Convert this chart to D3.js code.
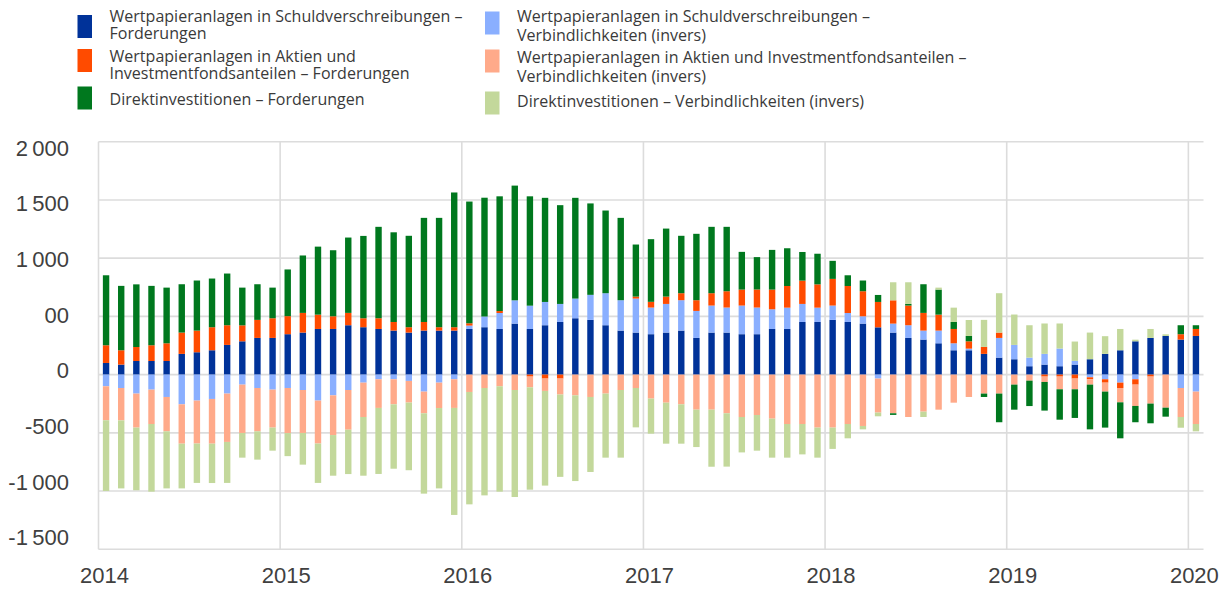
<!DOCTYPE html>
<html>
<head>
<meta charset="utf-8">
<script src="https://cdnjs.cloudflare.com/ajax/libs/d3/7.8.5/d3.min.js"></script>
<style>
body { margin: 0; background: #fff; }
</style>
</head>
<body>
<div id="canvas"></div>
<script>
var w = 1231;
var h = 589;
var barW = 6.4;

// monthly, Jan 2014 .. Jan 2020
var months = d3.range(73).map(function(i) { return new Date(2014, i, 1); });
var years = ["2014", "2015", "2016", "2017", "2018", "2019", "2020"];

var debtAssets = [100, 86, 117, 117, 117, 178, 192, 209, 255, 286, 315, 315,
    347, 361, 392, 392, 424, 407, 392, 378, 361, 378, 378, 378,
    392, 407, 392, 438, 392, 424, 452, 484, 470, 424, 378, 361,
    347, 361, 378, 315, 361, 361, 347, 347, 392, 392, 452, 452,
    470, 452, 438, 406, 361, 315, 301, 269, 209, 209, 178, 146,
    132, 72, 86, 72, 86, 132, 178, 209, 286, 315, 332, 301,
    332];
var debtLiab = [-100, -115, -163, -129, -192, -255, -223, -209, -163, -86, -115, -129,
    -115, -132, -223, -178, -132, -69, -40, -40, -54, -146, -69, -40,
    29, 92, 137, 200, 200, 200, 155, 169, 215, 275, 261, 292,
    229, 246, 261, 232, 232, 215, 246, 229, 169, 183, 155, 123,
    123, 77, 63, -34, 77, 109, 77, 109, 60, 14, 0, 169,
    123, 74, 92, 152, 32, -23, -40, -69, -40, 0, 0, -115,
    -146];
var equityAssets = [152, 123, 120, 135, 152, 183, 186, 198, 169, 137, 155, 169,
    155, 169, 123, 109, 106, 77, 92, 74, 46, 74, 29, 29,
    20, 0, 17, 0, -17, -34, -34, 0, 0, 0, 0, 17,
    49, 63, 60, 92, 106, 140, 137, 155, 169, 186, 200, 200,
    229, 232, 215, 218, 200, 169, 152, 137, 123, 63, 60, 46,
    0, 0, -17, -17, -34, -17, -29, -46, -46, -17, 0, 46,
    60];
var equityLiab = [-292, -278, -292, -295, -295, -338, -369, -384, -415, -415, -372, -326,
    -387, -369, -369, -341, -341, -295, -246, -215, -186, -186, -218, -246,
    -149, -115, -100, -132, -92, -106, -137, -178, -192, -163, -132, -115,
    -206, -241, -255, -301, -301, -332, -364, -347, -378, -424, -424, -455,
    -455, -424, -441, -292, -332, -364, -318, -301, -241, -192, -163, -163,
    -86, -52, -46, -109, -92, -46, -77, -123, -183, -232, -284, -249,
    -278];
var fdiAssets = [601, 553, 538, 510, 478, 415, 430, 418, 444, 324, 306, 263,
    401, 493, 584, 567, 647, 707, 785, 770, 785, 894, 939, 1157,
    1045, 1020, 985, 985, 939, 894, 848, 865, 785, 710, 707, 447,
    538, 584, 493, 570, 570, 553, 324, 278, 341, 324, 246, 263,
    155, 92, 92, 60, -14, 14, 246, 215, 60, 46, -29, -246,
    -215, -218, -246, -261, -246, -384, -309, -309, -140, -169, -77, 77,
    32];
var fdiLiab = [-607, -584, -538, -581, -490, -384, -338, -338, -352, -212, -243, -198,
    -198, -272, -338, -349, -381, -504, -567, -553, -581, -690, -690, -919,
    -965, -922, -905, -919, -879, -813, -707, -736, -644, -550, -581, -338,
    -301, -352, -338, -321, -490, -458, -304, -306, -335, -289, -261, -258,
    -183, -123, -29, -32, 155, 186, -46, 17, 123, 137, 232, 338,
    261, 278, 261, 215, 166, 229, 152, 183, 14, 77, 14, -92,
    -63];

var yTicks = [-1500, -1000, -500, 0, 500, 1000, 1500, 2000];
var yTickLabels = ["-1\u2009500", "-1\u2009000", "-500", "0", "00", "1\u2009000", "1\u2009500", "2\u2009000"];

var series = [
    { key: "debtAssets", color: "#003299", lines: ["Wertpapieranlagen in Schuldverschreibungen \u2013", "Forderungen"] },
    { key: "debtLiab", color: "#8AAFFF", lines: ["Wertpapieranlagen in Schuldverschreibungen \u2013", "Verbindlichkeiten (invers)"] },
    { key: "equityAssets", color: "#FF4B00", lines: ["Wertpapieranlagen in Aktien und", "Investmentfondsanteilen \u2013 Forderungen"] },
    { key: "equityLiab", color: "#FFAA8A", lines: ["Wertpapieranlagen in Aktien und Investmentfondsanteilen \u2013", "Verbindlichkeiten (invers)"] },
    { key: "fdiAssets", color: "#00781E", lines: ["Direktinvestitionen \u2013 Forderungen"] },
    { key: "fdiLiab", color: "#C3D89B", lines: ["Direktinvestitionen \u2013 Verbindlichkeiten (invers)"] }
];

var rows = months.map(function(m, i) {
    return {
        month: m,
        debtAssets: debtAssets[i],
        debtLiab: debtLiab[i],
        equityAssets: equityAssets[i],
        equityLiab: equityLiab[i],
        fdiAssets: fdiAssets[i],
        fdiLiab: fdiLiab[i]
    };
});

var canvas = d3.select("#canvas")
    .append("svg")
    .attr("width", w)
    .attr("height", h)
    .style("background-color", "white");

var xScale = d3.scaleLinear()
    .domain([0, 73])
    .range([98.5, 1203.5]);

var yScale = d3.scaleLinear()
    .domain([-1500, 2000])
    .range([549.3, 141.7]);

// tick labels in the source sit slightly off the grid
var yLabelScale = d3.scaleLinear()
    .domain([-1500, 2000])
    .range([537, 147.3]);

var grid = canvas.append("g")
    .attr("stroke", "#dcdcdc")
    .attr("stroke-width", 1.6);

grid.selectAll("line.h")
    .data(yTicks)
    .join("line")
    .attr("class", "h")
    .attr("x1", xScale(0))
    .attr("x2", xScale(73))
    .attr("y1", d => yScale(d))
    .attr("y2", d => yScale(d));

grid.selectAll("line.v")
    .data(years)
    .join("line")
    .attr("class", "v")
    .attr("x1", (d, i) => xScale(i * 12))
    .attr("x2", (d, i) => xScale(i * 12))
    .attr("y1", yScale(2000))
    .attr("y2", yScale(-1500));

var stack = d3.stack()
    .keys(series.map(d => d.key))
    .offset(d3.stackOffsetDiverging);

var layers = canvas.append("g")
    .selectAll("g")
    .data(stack(rows))
    .join("g")
    .attr("fill", (d, i) => series[i].color);

layers.selectAll("rect")
    .data(d => d)
    .join("rect")
    .attr("x", (d, i) => xScale(i + 0.5) - barW / 2)
    .attr("width", barW)
    .attr("y", d => yScale(Math.max(d[0], d[1])))
    .attr("height", d => Math.abs(yScale(d[0]) - yScale(d[1])));

var yAxis = d3.axisLeft(yLabelScale)
    .tickValues(yTicks)
    .tickFormat((d, i) => yTickLabels[i])
    .tickSize(0)
    .tickPadding(0);

canvas.append("g")
    .attr("transform", "translate(69, 0)")
    .call(yAxis)
    .call(g => g.select(".domain").remove())
    .selectAll("text")
    .attr("dy", "0.36em")
    .attr("fill", "#404040")
    .style("font-family", "'Liberation Sans', Arial, sans-serif")
    .style("font-size", "22px");

var xAxis = d3.axisBottom(xScale)
    .tickValues(d3.range(0, 73, 12))
    .tickFormat(d => years[d / 12])
    .tickSize(0)
    .tickPadding(0);

canvas.append("g")
    .attr("transform", "translate(5.5, 575)")
    .call(xAxis)
    .call(g => g.select(".domain").remove())
    .selectAll("text")
    .attr("y", 0)
    .attr("dy", "0.36em")
    .attr("fill", "#404040")
    .style("font-family", "'Liberation Sans', Arial, sans-serif")
    .style("font-size", "22px");

// legend: left column assets, right column liabilities
var legendPos = {
    debtAssets: { x: 77.5, y: 15, ty: 21.5, lh: 17.5 },
    equityAssets: { x: 77.5, y: 49, ty: 61.5, lh: 17.5 },
    fdiAssets: { x: 77.5, y: 86.5, ty: 104.5, lh: 17.5 },
    debtLiab: { x: 485, y: 11.5, ty: 22, lh: 19 },
    equityLiab: { x: 485, y: 49.5, ty: 62.5, lh: 19 },
    fdiLiab: { x: 485, y: 91.5, ty: 107, lh: 19 }
};

var legend = canvas.append("g").attr("class", "legend");

var legendItems = legend.selectAll("g")
    .data(series)
    .join("g");

legendItems.append("rect")
    .attr("x", d => legendPos[d.key].x)
    .attr("y", d => legendPos[d.key].y)
    .attr("width", 14.5)
    .attr("height", 23)
    .attr("fill", d => d.color);

var legendText = legendItems.append("text")
    .attr("fill", "#3a3a3a")
    .style("font-family", "'Open Sans', sans-serif")
    .style("font-size", "15px");

legendText.selectAll("tspan")
    .data(d => d.lines.map(function(l, i) { return { key: d.key, text: l, i: i }; }))
    .join("tspan")
    .attr("x", d => legendPos[d.key].x + 32)
    .attr("y", d => legendPos[d.key].ty + d.i * legendPos[d.key].lh)
    .text(d => d.text);

// size legend font so the longest line matches the source width
var longest = legendText.selectAll("tspan")
    .filter(d => d.text.indexOf("Investmentfondsanteilen \u2013") > 0 && d.key === "equityLiab")
    .node();
var fs = 15 * 450 / longest.getComputedTextLength();
legendText.style("font-size", fs + "px");
</script>
</body>
</html>
